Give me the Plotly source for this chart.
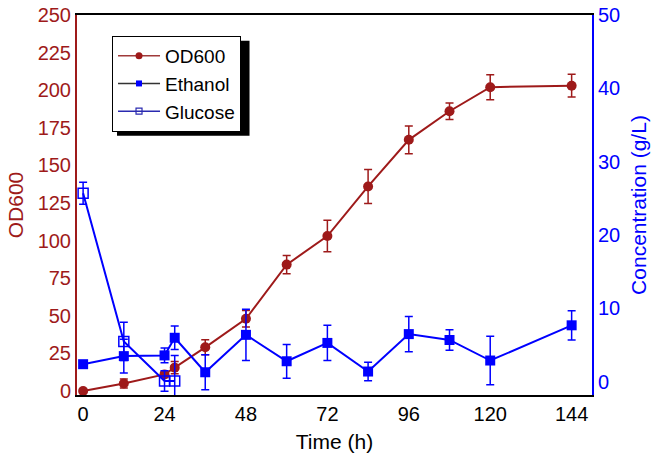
import plotly.graph_objects as go

# ---- data ----
time_h = [0, 12, 24, 27, 36, 48, 60, 72, 84, 96, 108, 120, 144]
od600 = [0, 5, 11, 15.5, 29, 48, 84, 103, 136, 167, 186, 202, 203]
od600_err = [1, 3, 2, 4, 5, 5.5, 6, 10.5, 11.3, 9.2, 5.5, 8.3, 7.6]
ethanol = [2.4, 3.5, 3.6, 6.0, 1.3, 6.4, 2.8, 5.3, 1.4, 6.5, 5.7, 2.9, 7.7]
ethanol_err = [0, 2.3, 1.0, 1.6, 2.4, 3.5, 2.3, 2.4, 1.25, 2.4, 1.4, 3.3, 2.0]
time_glc = [0, 12, 24, 27]
glucose = [25.7, 5.5, 0.1, 0.1]
glucose_err = [1.5, 2.6, 1.4, 3.5]
x_ticks = [0, 24, 48, 72, 96, 120, 144]

RED = "#9E1A1A"
BLUE = "#0000FF"
FONT = "Liberation Sans, Arial, sans-serif"

fig = go.Figure()

fig.add_trace(go.Scatter(
    x=time_h, y=od600, name="OD600", mode="lines+markers",
    line=dict(color=RED, width=2),
    marker=dict(symbol="circle", size=10, color=RED),
    error_y=dict(type="data", array=od600_err, color=RED, thickness=1.5, width=4),
    yaxis="y", cliponaxis=False, showlegend=False,
))
fig.add_trace(go.Scatter(
    x=time_h, y=ethanol, name="Ethanol", mode="lines+markers",
    line=dict(color=BLUE, width=2),
    marker=dict(symbol="square", size=10, color=BLUE),
    error_y=dict(type="data", array=ethanol_err, color=BLUE, thickness=1.5, width=4),
    yaxis="y2", showlegend=False, cliponaxis=False,
))
fig.add_trace(go.Scatter(
    x=time_glc, y=glucose, name="Glucose", mode="lines+markers",
    line=dict(color=BLUE, width=2),
    marker=dict(symbol="square-open", size=10, color=BLUE, line=dict(width=1.5)),
    error_y=dict(type="data", array=glucose_err, color=BLUE, thickness=1.5, width=4),
    yaxis="y2", cliponaxis=False, showlegend=False,
))

# legend-only entries (small symbols, as in the original legend)
fig.add_trace(go.Scatter(
    x=[None], y=[None], name="OD600", mode="lines+markers",
    line=dict(color="#A03A3A", width=1.5),
    marker=dict(symbol="circle", size=7, color=RED),
))
fig.add_trace(go.Scatter(
    x=[None], y=[None], name="Ethanol", mode="lines+markers",
    line=dict(color="#333333", width=1.5),
    marker=dict(symbol="square", size=6, color=BLUE),
    yaxis="y2",
))
fig.add_trace(go.Scatter(
    x=[None], y=[None], name="Glucose", mode="lines+markers",
    line=dict(color="#2A2AB0", width=1.5),
    marker=dict(symbol="square-open", size=6, color="#2A2AB0", line=dict(width=1.2)),
    yaxis="y2",
))

# legend drop shadow (paper coordinates)
fig.add_shape(type="rect", xref="paper", yref="paper",
              x0=0.0777, x1=0.335, y0=0.682, y1=0.932,
              fillcolor="black", line=dict(width=0), layer="above")

fig.update_layout(
    width=651, height=453,
    margin=dict(l=77, r=59, t=15, b=58, autoexpand=False),
    paper_bgcolor="white", plot_bgcolor="white",
    font=dict(family=FONT, size=20, color="black"),
    showlegend=True,
    legend=dict(
        x=0.068, y=0.945, xanchor="left", yanchor="top",
        bgcolor="white", bordercolor="black", borderwidth=1,
        font=dict(family=FONT, size=19, color="black"),
        tracegroupgap=0, itemwidth=42, itemsizing="trace",
    ),
    xaxis=dict(
        range=[-1.8, 150], tickmode="array", tickvals=x_ticks,
        ticks="", showgrid=False, zeroline=False, automargin=False,
        showline=True, linecolor="black", linewidth=2, mirror=True,
        tickfont=dict(size=20, color="black"),
        title=dict(text="Time (h)", font=dict(size=21, color="black"), standoff=14),
    ),
    yaxis=dict(
        range=[-2.7, 250], dtick=25, tick0=0, automargin=False,
        ticks="", showgrid=False, zeroline=False,
        showline=True, linecolor=RED, linewidth=2,
        tickfont=dict(size=20, color=RED),
        title=dict(text="OD600", font=dict(size=21, color=RED), standoff=8),
    ),
    yaxis2=dict(
        range=[-1.8, 50], dtick=10, tick0=0, overlaying="y", side="right",
        ticks="", showgrid=False, zeroline=False, automargin=False,
        showline=True, linecolor=BLUE, linewidth=2,
        tickfont=dict(size=20, color=BLUE),
        title=dict(text="Concentration (g/L)", font=dict(size=21, color=BLUE), standoff=12),
    ),
)

fig.write_html("out.html")
